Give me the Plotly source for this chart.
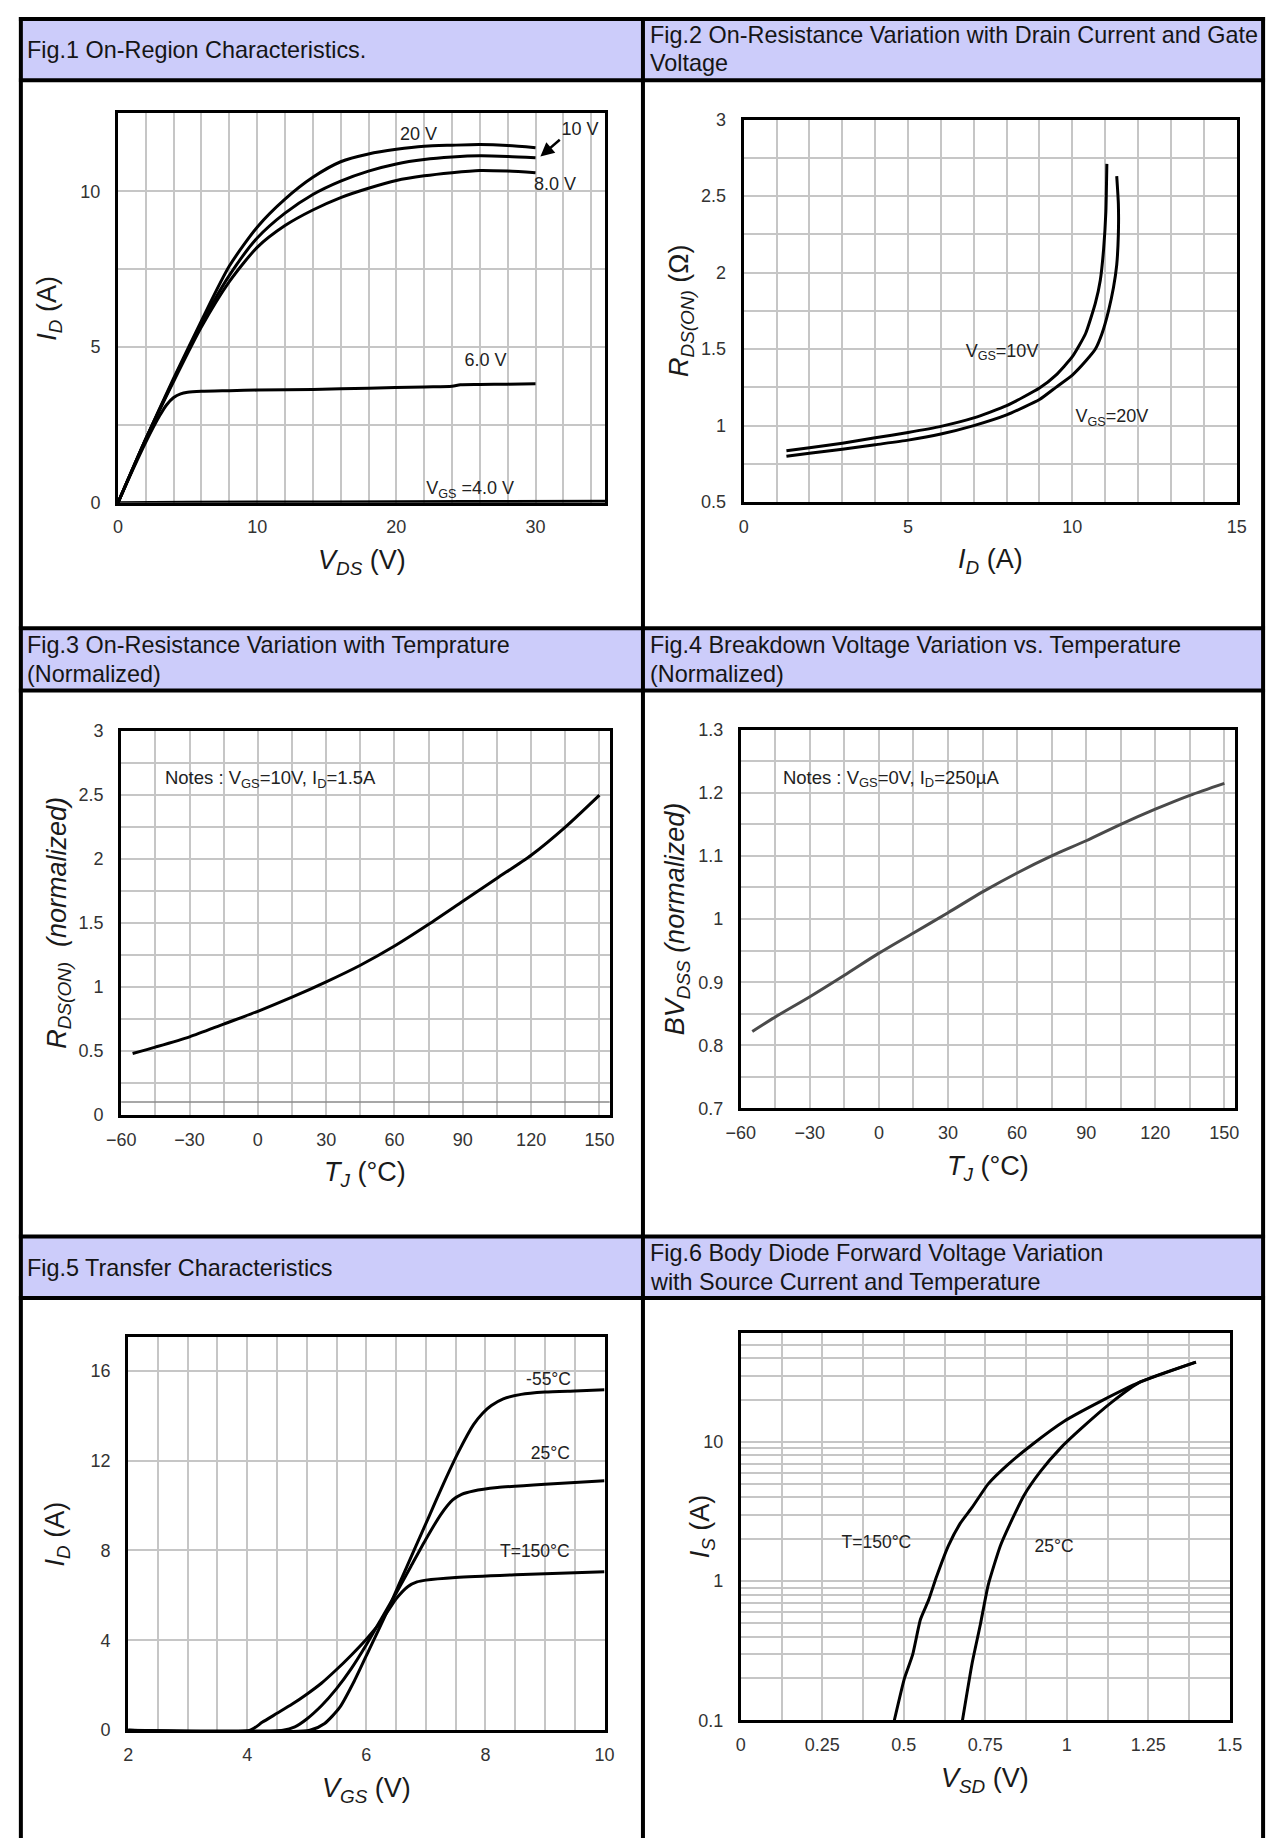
import math
import plotly.graph_objects as go

W, H = 1280, 1848
FONT = "Liberation Sans, Arial, Helvetica, sans-serif"

# ---------------- data ----------------
# Fig.1 On-Region Characteristics
fig1_vds = [0, 2, 4, 6, 8, 10, 12, 14, 16, 18, 20, 22, 24, 26, 28, 30]
fig1_id_20v = [0, 2.05, 4.0, 5.85, 7.6, 8.85, 9.75, 10.45, 10.95, 11.2, 11.35, 11.45, 11.48, 11.5, 11.47, 11.4]
fig1_id_10v = [0, 2.05, 3.95, 5.75, 7.3, 8.5, 9.3, 9.9, 10.33, 10.65, 10.88, 11.02, 11.1, 11.14, 11.12, 11.08]
fig1_id_8v = [0, 2.05, 3.9, 5.65, 7.1, 8.2, 8.9, 9.4, 9.8, 10.1, 10.35, 10.5, 10.6, 10.67, 10.65, 10.6]
fig1_vds_6v = [0, 1, 2, 3, 3.5, 4, 4.5, 5, 6, 8, 10, 14, 18, 22, 24, 24.6, 26, 28, 30]
fig1_id_6v = [0, 1.0, 1.95, 2.8, 3.15, 3.38, 3.5, 3.55, 3.58, 3.6, 3.62, 3.64, 3.68, 3.72, 3.74, 3.79, 3.8, 3.81, 3.82]
fig1_vds_4v = [0, 5, 15, 25, 35]
fig1_id_4v = [0, 0.02, 0.03, 0.04, 0.05]

# Fig.2 On-Resistance vs Drain Current
fig2_id_10v = [1.3, 2, 3, 4, 5, 6, 7, 8, 9, 9.5, 10, 10.4, 10.7, 10.85, 10.95, 11.02, 11.05]
fig2_r_10v = [0.835, 0.855, 0.885, 0.92, 0.955, 0.995, 1.05, 1.13, 1.245, 1.33, 1.45, 1.6, 1.8, 1.95, 2.15, 2.4, 2.71]
fig2_id_20v = [1.3, 2, 3, 4, 5, 6, 7, 8, 9, 9.5, 10, 10.4, 10.7, 10.9, 11.1, 11.25, 11.35, 11.4, 11.4, 11.35]
fig2_r_20v = [0.80, 0.82, 0.845, 0.875, 0.905, 0.945, 1.0, 1.07, 1.17, 1.25, 1.33, 1.42, 1.5, 1.6, 1.75, 1.9, 2.05, 2.25, 2.45, 2.63]

# Fig.3 On-Resistance vs Temperature
fig3_tj = [-55, -45, -30, -15, 0, 15, 30, 45, 60, 75, 90, 105, 120, 135, 150]
fig3_r = [0.48, 0.53, 0.61, 0.71, 0.81, 0.92, 1.04, 1.17, 1.32, 1.49, 1.67, 1.85, 2.03, 2.25, 2.5]

# Fig.4 Breakdown Voltage vs Temperature
fig4_tj = [-55, -45, -30, -15, 0, 15, 30, 45, 60, 75, 90, 105, 120, 135, 150]
fig4_bv = [0.822, 0.845, 0.877, 0.911, 0.946, 0.978, 1.01, 1.043, 1.073, 1.1, 1.124, 1.15, 1.174, 1.196, 1.215]

# Fig.5 Transfer Characteristics
fig5_vgs_m55 = [2, 5.05, 5.3, 5.55, 5.8, 6.05, 6.3, 6.55, 6.8, 7.05, 7.3, 7.55, 7.8, 7.95, 8.1, 8.3, 8.6, 9.0, 9.5, 10]
fig5_id_m55 = [0, 0, 0.3, 1.0, 2.2, 3.6, 5.0, 6.5, 8.0, 9.5, 11.0, 12.4, 13.6, 14.1, 14.45, 14.75, 14.95, 15.05, 15.1, 15.15]
fig5_vgs_25 = [2, 4.6, 4.8, 5.0, 5.25, 5.5, 5.75, 6.0, 6.25, 6.5, 6.75, 7.0, 7.25, 7.45, 7.6, 7.8, 8.2, 9.0, 10]
fig5_id_25 = [0, 0, 0.15, 0.5, 1.1, 1.85, 2.75, 3.8, 4.95, 6.1, 7.3, 8.5, 9.6, 10.25, 10.5, 10.65, 10.8, 10.95, 11.1]
fig5_vgs_150 = [2, 4.05, 4.25, 4.5, 4.75, 5.0, 5.25, 5.5, 5.75, 6.0, 6.25, 6.5, 6.7, 6.85, 7.0, 7.5, 8.5, 10]
fig5_id_150 = [0, 0, 0.35, 0.75, 1.15, 1.6, 2.1, 2.7, 3.35, 4.05, 4.85, 5.85, 6.4, 6.6, 6.68, 6.8, 6.92, 7.05]

# Fig.6 Body Diode Forward Voltage
fig6_vsd_150 = [0.471, 0.502, 0.527, 0.551, 0.576, 0.6, 0.637, 0.673, 0.71, 0.759, 0.82, 0.894, 0.992, 1.102, 1.224, 1.396]
fig6_is_150 = [0.1, 0.2, 0.295, 0.53, 0.73, 1.07, 1.8, 2.6, 3.4, 5.0, 6.9, 9.6, 14.1, 19.5, 26.9, 37.5]
fig6_vsd_25 = [0.68, 0.71, 0.735, 0.759, 0.796, 0.833, 0.869, 0.918, 0.98, 1.041, 1.139, 1.224, 1.396]
fig6_is_25 = [0.1, 0.26, 0.49, 0.94, 1.79, 2.8, 4.15, 6.1, 9.0, 12.3, 19.4, 26.9, 37.5]
fig6_minor_grid = [0.2, 0.3, 0.4, 0.5, 0.6, 0.7, 0.8, 0.9, 2, 3, 4, 5, 6, 7, 8, 9, 20, 30, 40, 50, 60]

titles = [
    ["Fig.1 On-Region Characteristics."],
    ["Fig.2 On-Resistance Variation with Drain Current and Gate", "Voltage"],
    ["Fig.3 On-Resistance Variation with Temprature", "(Normalized)"],
    ["Fig.4 Breakdown Voltage Variation vs. Temperature", "(Normalized)"],
    ["Fig.5 Transfer Characteristics"],
    ["Fig.6 Body Diode Forward Voltage Variation", "with Source Current and Temperature"],
]

# ---------------- layout geometry (pixels) ----------------
P = {
    1: dict(l=105.3, r=603.3, t=104.6, b=498.2),
    2: dict(l=745, r=1249, t=110.7, b=497.5),
    3: dict(l=108.6, r=608, t=729, b=1117),
    4: dict(l=742, r=1247, t=727.5, b=1110.5),
    5: dict(l=115.7, r=602.7, t=1341.6, b=1739),
    6: dict(l=742, r=1242, t=1337.5, b=1729),
}

def fx(px):
    return px / W

def fy(py):
    return 1 - py / H

fig = go.Figure()

def sfx_of(i):
    return "" if i == 1 else str(i)

def add_line(i, x, y, color="black", width=3, smoothing=0.7):
    s = sfx_of(i)
    fig.add_trace(go.Scatter(
        x=x, y=y, mode="lines", xaxis="x" + s, yaxis="y" + s,
        line=dict(color=color, width=width, shape="spline", smoothing=smoothing),
        hoverinfo="skip", showlegend=False))

add_line(1, fig1_vds, fig1_id_20v)
add_line(1, fig1_vds, fig1_id_10v)
add_line(1, fig1_vds, fig1_id_8v)
add_line(1, fig1_vds_6v, fig1_id_6v)
add_line(1, fig1_vds_4v, fig1_id_4v)
add_line(2, fig2_id_10v, fig2_r_10v, smoothing=0.5)
add_line(2, fig2_id_20v, fig2_r_20v, smoothing=0.5)
add_line(3, fig3_tj, fig3_r)
add_line(4, fig4_tj, fig4_bv, color="#4a4a4a")
add_line(5, fig5_vgs_m55, fig5_id_m55, smoothing=0.6)
add_line(5, fig5_vgs_25, fig5_id_25, smoothing=0.6)
add_line(5, fig5_vgs_150, fig5_id_150, smoothing=0.6)
add_line(6, fig6_vsd_150, fig6_is_150, smoothing=0.5)
add_line(6, fig6_vsd_25, fig6_is_25, smoothing=0.5)

# ---- in-plot labels as text traces ----
def lab(i, text, x, y, pos="middle center", size=18):
    s = sfx_of(i)
    fig.add_trace(go.Scatter(
        x=[x], y=[y], mode="text", text=[text], textposition=pos,
        textfont=dict(family=FONT, size=size, color="#222222"),
        xaxis="x" + s, yaxis="y" + s, cliponaxis=False,
        hoverinfo="skip", showlegend=False))

lab(1, "20 V", 21.6, 11.8)
lab(1, "10 V", 33.2, 11.95)
lab(1, "8.0 V", 31.4, 10.2)
lab(1, "6.0 V", 26.4, 4.55)
lab(1, "V<sub>GS</sub> =4.0 V", 25.3, 0.42)
lab(2, "V<sub>GS</sub>=10V", 7.86, 1.48)
lab(2, "V<sub>GS</sub>=20V", 11.2, 1.05)
lab(3, "Notes : V<sub>GS</sub>=10V, I<sub>D</sub>=1.5A", -40.8, 2.62, pos="middle right", size=18.5)
lab(4, "Notes : V<sub>GS</sub>=0V, I<sub>D</sub>=250µA", -41.7, 1.222, pos="middle right", size=18.5)
lab(5, "-55°C", 9.06, 15.55, size=17.5)
lab(5, "25°C", 9.09, 12.25, size=17.5)
lab(5, "T=150°C", 8.83, 7.9, size=17.5)
lab(6, "T=150°C", 0.416, 1.85, size=17.5)
lab(6, "25°C", 0.961, 1.73, size=17.5)

GRID = "#c6c6c6"
TICKF = dict(family=FONT, size=18, color="#333333")

def axis_common():
    return dict(showline=True, mirror=True, linecolor="black", linewidth=3,
                showgrid=True, gridcolor=GRID, gridwidth=2, zeroline=False,
                ticks="", tickfont=TICKF, fixedrange=True)

axes_spec = {
    1: (dict(range=[0, 35], dtick=10, tick0=0, minor=dict(dtick=2, tick0=0)),
        dict(range=[0, 12.5], dtick=5, tick0=0, minor=dict(dtick=2.5, tick0=0))),
    2: (dict(range=[0, 15], dtick=5, tick0=0, minor=dict(dtick=1, tick0=0)),
        dict(range=[0.5, 3], dtick=0.5, tick0=0.5, minor=dict(dtick=0.25, tick0=0.5))),
    3: (dict(range=[-60, 154.5], dtick=30, tick0=-60, minor=dict(dtick=15, tick0=-60)),
        dict(range=[0, 3], dtick=0.5, tick0=0, minor=dict(dtick=0.25, tick0=0))),
    4: (dict(range=[-60, 154.5], dtick=30, tick0=-60, minor=dict(dtick=15, tick0=-60)),
        dict(range=[0.7, 1.3], dtick=0.1, tick0=0.7, minor=dict(dtick=0.05, tick0=0.7))),
    5: (dict(range=[2, 10], dtick=2, tick0=2, minor=dict(dtick=0.5, tick0=2)),
        dict(range=[0, 17.5], dtick=4, tick0=0)),
    6: (dict(range=[0, 1.5], dtick=0.25, tick0=0, minor=dict(dtick=0.125, tick0=0)),
        dict(type="log", range=[-1, 1.783], tickmode="array", tickvals=[0.1, 1, 10],
             ticktext=["0.1", "1", "10"],
             minor=dict(tickmode="array", tickvals=fig6_minor_grid))),
}

layout_axes = {}
for i, (xs, ys) in axes_spec.items():
    p = P[i]
    s = sfx_of(i)
    xa = axis_common()
    xa.update(xs)
    if "minor" in xa:
        xa["minor"] = dict(xa["minor"], showgrid=True, gridcolor=GRID, gridwidth=2, ticks="")
    xa.update(domain=[fx(p["l"]), fx(p["r"])], anchor="y" + s, ticklabelstandoff=6)
    ya = axis_common()
    ya.update(ys)
    if "minor" in ya:
        ya["minor"] = dict(ya["minor"], showgrid=True, gridcolor=GRID, gridwidth=2, ticks="")
    ya.update(domain=[fy(p["b"]), fy(p["t"])], anchor="x" + s, ticklabelstandoff=11)
    layout_axes["xaxis" + s] = xa
    layout_axes["yaxis" + s] = ya

fig.update_layout(**layout_axes)

annotations = []
shapes = []

# ---- table frame, header bands (no bottom rule: the table runs off the page) ----
LAV = "rgb(204,204,250)"
left_x, mid_x, right_x = 6, 642, 1276
rows = [9, 71, 625, 688, 1240, 1302]
for (y0, y1) in [(rows[0], rows[1]), (rows[2], rows[3]), (rows[4], rows[5])]:
    shapes.append(dict(type="rect", xref="paper", yref="paper",
                       x0=fx(left_x), x1=fx(right_x), y0=fy(y1), y1=fy(y0),
                       fillcolor=LAV, line=dict(width=0), layer="below"))
for yy in rows:
    shapes.append(dict(type="line", xref="paper", yref="paper",
                       x0=fx(left_x - 2), x1=fx(right_x + 2), y0=fy(yy), y1=fy(yy),
                       line=dict(color="black", width=4), layer="above"))
for xx in [left_x, mid_x, right_x]:
    shapes.append(dict(type="line", xref="paper", yref="paper",
                       x0=fx(xx), x1=fx(xx), y0=fy(rows[0] - 2), y1=0,
                       line=dict(color="black", width=4), layer="above"))

# header titles
HF = dict(family=FONT, size=23.4, color="#151515")
title_pos = [
    (10, [40.5]), (647, [25.5, 54]),
    (10, [642, 671.5]), (647, [642, 671.5]),
    (10, [1271.5]), (647, [1257, 1286]),
]
for lines, (tx, tys) in zip(titles, title_pos):
    for txt, ty in zip(lines, tys):
        annotations.append(dict(text=txt, xref="paper", yref="paper", x=fx(tx), y=fy(ty),
                                xanchor="left", yanchor="middle", showarrow=False, font=HF))

# Fig.3 reference line at 0.1
shapes.append(dict(type="line", xref="x3 domain", yref="y3", x0=0, x1=1, y0=0.1, y1=0.1,
                   line=dict(color="#8a8a8a", width=1.5), layer="above"))

# Fig.1 arrow pointing at the 10 V curve
annotations.append(dict(text="", xref="x", yref="y", x=30.35, y=11.12, ax=31.85, ay=11.7,
                        axref="x", ayref="y", showarrow=True, arrowhead=2, arrowsize=1.1,
                        arrowwidth=2.5, arrowcolor="black"))

# ---- axis titles ----
AF = dict(family=FONT, size=27, color="#1a1a1a")
axis_titles = {
    1: ("<i>V<sub>DS</sub></i> (V)", "<i>I<sub>D</sub></i> (A)", 70),
    2: ("<i>I<sub>D</sub></i> (A)", "<i>R<sub>DS(ON)</sub></i> (Ω)", 64),
    3: ("<i>T<sub>J</sub></i> (°C)", "<i>R<sub>DS(ON)</sub>  (normalized)</i>", 64),
    4: ("<i>T<sub>J</sub></i> (°C)", "<i>BV<sub>DSS</sub> (normalized)</i>", 65),
    5: ("<i>V<sub>GS</sub></i> (V)", "<i>I<sub>D</sub></i> (A)", 73),
    6: ("<i>V<sub>SD</sub></i> (V)", "<i>I<sub>S</sub></i> (A)", 40),
}
for i, (xt, yt, off) in axis_titles.items():
    p = P[i]
    annotations.append(dict(text=xt, xref="paper", yref="paper",
                            x=fx((p["l"] + p["r"]) / 2), y=fy(p["b"] + 60),
                            xanchor="center", yanchor="middle", showarrow=False, font=AF))
    annotations.append(dict(text=yt, xref="paper", yref="paper",
                            x=fx(p["l"] - off), y=fy((p["t"] + p["b"]) / 2), textangle=-90,
                            xanchor="center", yanchor="middle", showarrow=False, font=AF))

fig.update_layout(
    width=W, height=H, margin=dict(l=0, r=0, t=0, b=0),
    paper_bgcolor="white", plot_bgcolor="white",
    font=dict(family=FONT, color="#222222", size=18),
    showlegend=False, hovermode=False,
    annotations=annotations, shapes=shapes,
)

fig.write_html("out.html", config={"displayModeBar": False},
               post_script="document.body.style.margin='0';document.body.style.overflow='hidden';")
